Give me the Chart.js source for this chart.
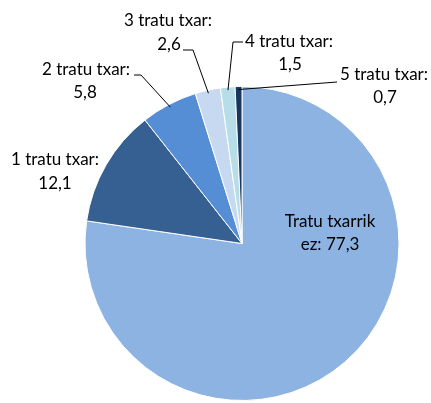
<!DOCTYPE html>
<html lang="eu">
<head>
  <meta charset="UTF-8" />
  <title>Tratu txarrak</title>
  <script src="https://cdn.jsdelivr.net/npm/chart.js"></script>
  <style>
    body {
      margin: 0;
      background: #fff;
    }
    #wrap {
      width: 431px;
      height: 403px;
    }
  </style>
</head>
<body>
  <div id="wrap"><canvas id="pieChart" width="431" height="403"></canvas></div>

  <script>
    const labels = ['Tratu txarrik ez', '1 tratu txar', '2 tratu txar', '3 tratu txar', '4 tratu txar', '5 tratu txar'];
    const values = [77.3, 12.1, 5.8, 2.6, 1.5, 0.7];
    const colors = ['#8DB3E2', '#376092', '#558ED5', '#C6D9F1', '#B7DEE8', '#17375E'];

    // where each label goes (text centres) and where its leader starts
    const labelPos = [
      { x: 330, y: 222, x2: 330, y2: 245, line1: 'Tratu txarrik', line2: 'ez: 77,3', leader: null },
      { x: 55, y: 160, x2: 55, y2: 184, line1: '1 tratu txar:', line2: '12,1', leader: null },
      { x: 86, y: 70, x2: 85, y2: 93, line1: '2 tratu txar:', line2: '5,8', leader: [[134, 75], [141, 75]] },
      { x: 168, y: 21, x2: 169, y2: 45, line1: '3 tratu txar:', line2: '2,6', leader: [[183, 50], [193, 50]] },
      { x: 289, y: 42, x2: 290, y2: 65, line1: '4 tratu txar:', line2: '1,5', leader: [[243, 42], [233, 42]] },
      { x: 384, y: 75, x2: 385, y2: 98, line1: '5 tratu txar:', line2: '0,7', leader: [[337, 82]] }
    ];

    const pieLabels = {
      id: 'pieLabels',
      afterDraw(chart) {
        const ctx = chart.ctx;
        const arcs = chart.getDatasetMeta(0).data;
        ctx.save();
        ctx.font = '17px Lato, "Open Sans", sans-serif';
        ctx.fillStyle = '#000';
        ctx.textAlign = 'center';
        ctx.textBaseline = 'middle';
        labelPos.forEach((p, i) => {
          ctx.fillText(p.line1, p.x, p.y);
          ctx.fillText(p.line2, p.x2, p.y2);
          if (p.leader) {
            const a = arcs[i];
            const mid = (a.startAngle + a.endAngle) / 2;
            const r = a.outerRadius - 3;
            ctx.beginPath();
            ctx.strokeStyle = '#000';
            ctx.lineWidth = 1;
            ctx.moveTo(p.leader[0][0], p.leader[0][1]);
            for (let k = 1; k < p.leader.length; k++) ctx.lineTo(p.leader[k][0], p.leader[k][1]);
            ctx.lineTo(a.x + r * Math.cos(mid), a.y + r * Math.sin(mid));
            ctx.stroke();
          }
        });
        ctx.restore();
      }
    };

    new Chart(document.getElementById('pieChart'), {
      type: 'pie',
      data: {
        labels: labels,
        datasets: [{
          data: values,
          backgroundColor: colors,
          borderColor: '#fff',
          borderWidth: 1
        }]
      },
      options: {
        responsive: false,
        animation: false,
        layout: { padding: { left: 84, right: 31, top: 86, bottom: 2 } },
        plugins: {
          legend: { display: false },
          tooltip: { enabled: false }
        }
      },
      plugins: [pieLabels]
    });
  </script>
</body>
</html>
